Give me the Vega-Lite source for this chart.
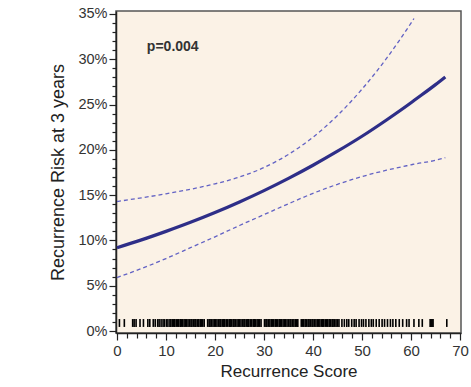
{
  "$schema": "https://vega.github.io/schema/vega-lite/v6.json",
  "width": 345,
  "height": 322,
  "autosize": {"type": "none"},
  "padding": {"left": 116, "top": 11, "right": 10, "bottom": 54},
  "background": "#ffffff",
  "config": {
    "view": {"fill": "#FBF2E6", "stroke": "#555555", "strokeWidth": 1.5},
    "font": "Liberation Sans",
    "axis": {"labelFont": "Liberation Sans", "titleFont": "Liberation Sans", "labelColor": "#333333", "titleColor": "#222222", "domainColor": "#222222", "tickColor": "#222222", "domainWidth": 1.5, "tickWidth": 1.2, "grid": false, "titleFontWeight": "normal"}
  },
  "datasets": {
    "curve": [
      {"x": 0, "est": 0.092, "lo": 0.059, "hi": 0.143},
      {"x": 5, "est": 0.1006, "lo": 0.069, "hi": 0.147},
      {"x": 10, "est": 0.110, "lo": 0.080, "hi": 0.1515},
      {"x": 15, "est": 0.120, "lo": 0.092, "hi": 0.1565},
      {"x": 20, "est": 0.1308, "lo": 0.104, "hi": 0.1625},
      {"x": 25, "est": 0.1425, "lo": 0.1165, "hi": 0.170},
      {"x": 30, "est": 0.155, "lo": 0.1285, "hi": 0.1805},
      {"x": 35, "est": 0.1685, "lo": 0.1405, "hi": 0.195},
      {"x": 40, "est": 0.183, "lo": 0.152, "hi": 0.214},
      {"x": 45, "est": 0.1985, "lo": 0.162, "hi": 0.238},
      {"x": 50, "est": 0.215, "lo": 0.1705, "hi": 0.267},
      {"x": 55, "est": 0.233, "lo": 0.1775, "hi": 0.301},
      {"x": 60, "est": 0.252, "lo": 0.1835, "hi": 0.340},
      {"x": 60.6, "est": 0.2544, "lo": 0.1842, "hi": 0.345},
      {"x": 65, "est": 0.272, "lo": 0.1885, "hi": null},
      {"x": 67, "est": 0.2805, "lo": 0.1915, "hi": null}
    ],
    "rug": [
      {"s": 0.5}, {"s": 1.5}, {"s": 3.2}, {"s": 3.5}, {"s": 3.9}, {"s": 4.7}, {"s": 5.4}, {"s": 6.3}, {"s": 6.7}, {"s": 7.4}, {"s": 7.8}, {"s": 8.3}, {"s": 8.6}, {"s": 9.0}, {"s": 9.4}, {"s": 9.7}, {"s": 10.1}, {"s": 10.4}, {"s": 10.8},
      {"s": 11.0}, {"s": 11.3}, {"s": 11.5}, {"s": 11.8}, {"s": 12.1}, {"s": 12.4}, {"s": 12.6}, {"s": 12.9}, {"s": 13.2}, {"s": 13.4}, {"s": 13.7}, {"s": 14.0}, {"s": 14.2}, {"s": 14.5}, {"s": 14.8}, {"s": 15.1}, {"s": 15.3}, {"s": 15.6}, {"s": 15.9}, {"s": 16.1}, {"s": 16.4}, {"s": 16.7}, {"s": 17.0}, {"s": 17.2}, {"s": 17.5}, {"s": 17.8}, {"s": 18.5}, {"s": 18.8}, {"s": 19.0}, {"s": 19.3}, {"s": 19.6}, {"s": 19.9},
      {"s": 20.1}, {"s": 20.4}, {"s": 20.7}, {"s": 21.0}, {"s": 21.2}, {"s": 21.5}, {"s": 21.8}, {"s": 22.0}, {"s": 22.3}, {"s": 22.6}, {"s": 22.9}, {"s": 23.1}, {"s": 23.4}, {"s": 23.7}, {"s": 23.9}, {"s": 24.2}, {"s": 24.5}, {"s": 24.8}, {"s": 25.0}, {"s": 25.3}, {"s": 25.6}, {"s": 25.9}, {"s": 26.1}, {"s": 26.4}, {"s": 26.7}, {"s": 26.9}, {"s": 27.2}, {"s": 27.5}, {"s": 27.8}, {"s": 28.0}, {"s": 28.3}, {"s": 28.6}, {"s": 28.9}, {"s": 29.1}, {"s": 29.4},
      {"s": 30.1}, {"s": 30.4}, {"s": 30.6}, {"s": 30.9}, {"s": 31.2}, {"s": 31.5}, {"s": 31.7}, {"s": 32.0}, {"s": 32.3}, {"s": 32.5}, {"s": 32.8}, {"s": 33.1}, {"s": 33.4}, {"s": 33.6}, {"s": 33.9}, {"s": 34.2}, {"s": 34.4}, {"s": 34.7}, {"s": 35.0}, {"s": 35.3}, {"s": 35.5}, {"s": 35.8}, {"s": 36.1}, {"s": 36.4}, {"s": 36.6}, {"s": 36.9}, {"s": 37.6}, {"s": 37.9}, {"s": 38.1}, {"s": 38.4}, {"s": 38.7}, {"s": 39.0}, {"s": 39.2}, {"s": 39.5}, {"s": 39.8},
      {"s": 40.0}, {"s": 40.3}, {"s": 40.6}, {"s": 40.9}, {"s": 41.1}, {"s": 41.4}, {"s": 41.7}, {"s": 42.0}, {"s": 42.2}, {"s": 42.5}, {"s": 42.8}, {"s": 43.0}, {"s": 43.3}, {"s": 43.6}, {"s": 43.9}, {"s": 44.1}, {"s": 44.4}, {"s": 44.7}, {"s": 45.0}, {"s": 45.3},
      {"s": 45.9}, {"s": 46.4}, {"s": 46.9}, {"s": 47.3}, {"s": 47.9}, {"s": 48.4}, {"s": 48.8}, {"s": 49.4}, {"s": 49.9}, {"s": 50.3}, {"s": 50.8}, {"s": 51.4}, {"s": 51.9}, {"s": 52.3}, {"s": 52.9}, {"s": 53.5}, {"s": 54.1}, {"s": 54.6}, {"s": 55.2}, {"s": 55.8}, {"s": 56.3},
      {"s": 56.9}, {"s": 57.6}, {"s": 58.3}, {"s": 59.1}, {"s": 59.6}, {"s": 60.6}, {"s": 61.6}, {"s": 62.3}, {"s": 63.9}, {"s": 64.1}, {"s": 64.3}, {"s": 64.5}, {"s": 67.3}
    ]
  },
  "layer": [
    {
      "data": {"name": "rug"},
      "mark": {"type": "rule", "color": "#000000", "strokeWidth": 1.6},
      "encoding": {
        "x": {
          "field": "s", "type": "quantitative",
          "scale": {"domain": [-0.2, 70.2], "nice": false, "zero": false},
          "axis": {
            "title": "Recurrence Score", "titleFontSize": 17, "titlePadding": 5,
            "values": [0,2,4,6,8,10,12,14,16,18,20,22,24,26,28,30,32,34,36,38,40,42,44,46,48,50,52,54,56,58,60,62,64,66,68,70],
            "tickCount": 200,
            "labelExpr": "datum.value % 10 === 0 ? format(datum.value, 'd') : ''",
            "labelOverlap": false, "labelBound": false, "labelFlush": false,
            "labelFontSize": 15, "labelPadding": 3,
            "tickSize": {"condition": {"test": "datum.value % 10 === 0", "value": 7}, "value": 5}
          }
        },
        "y": {
          "datum": 0.0045, "type": "quantitative",
          "scale": {"domain": [-0.0022, 0.3533], "nice": false, "zero": false},
          "axis": {
            "title": "Recurrence Risk at 3 years", "titleFontSize": 18, "titlePadding": 10,
            "values": [0,0.01,0.02,0.03,0.04,0.05,0.06,0.07,0.08,0.09,0.1,0.11,0.12,0.13,0.14,0.15,0.16,0.17,0.18,0.19,0.2,0.21,0.22,0.23,0.24,0.25,0.26,0.27,0.28,0.29,0.3,0.31,0.32,0.33,0.34,0.35],
            "tickCount": 200,
            "labelExpr": "round(datum.value * 100) % 5 === 0 ? format(datum.value, '.0%') : ''",
            "labelOverlap": false, "labelBound": false, "labelFlush": false,
            "labelFontSize": 14.5, "labelPadding": 2,
            "tickSize": {"condition": {"test": "round(datum.value * 100) % 5 === 0", "value": 7}, "value": 4}
          }
        },
        "y2": {"datum": 0.0132}
      }
    },
    {
      "data": {"name": "curve"},
      "mark": {"type": "line", "color": "#6262C4", "strokeWidth": 1.3, "strokeDash": [4, 3], "interpolate": "monotone"},
      "encoding": {
        "x": {"field": "x", "type": "quantitative"},
        "y": {"field": "hi", "type": "quantitative"}
      }
    },
    {
      "data": {"name": "curve"},
      "mark": {"type": "line", "color": "#6262C4", "strokeWidth": 1.3, "strokeDash": [4, 3], "interpolate": "monotone"},
      "encoding": {
        "x": {"field": "x", "type": "quantitative"},
        "y": {"field": "lo", "type": "quantitative"}
      }
    },
    {
      "data": {"name": "curve"},
      "mark": {"type": "line", "color": "#2E2E88", "strokeWidth": 3.2, "interpolate": "monotone"},
      "encoding": {
        "x": {"field": "x", "type": "quantitative"},
        "y": {"field": "est", "type": "quantitative"}
      }
    },
    {
      "data": {"values": [{"label": "p=0.004"}]},
      "mark": {"type": "text", "fontWeight": "bold", "fontSize": 14, "color": "#333333", "align": "left", "baseline": "middle"},
      "encoding": {
        "x": {"datum": 6.1, "type": "quantitative"},
        "y": {"datum": 0.314, "type": "quantitative"},
        "text": {"field": "label"}
      }
    }
  ]
}
